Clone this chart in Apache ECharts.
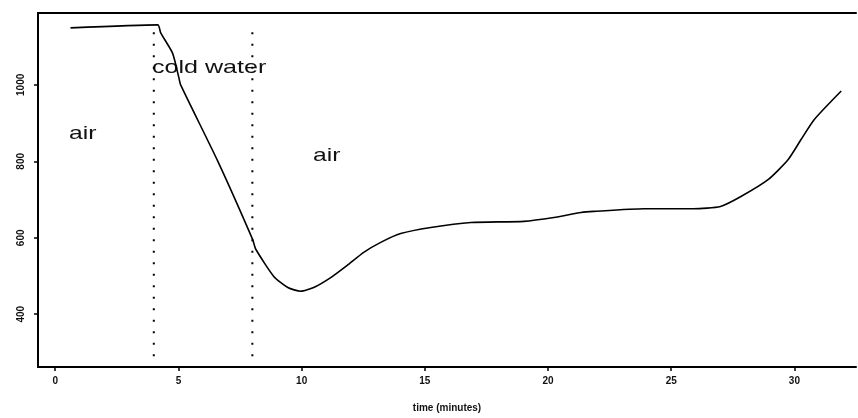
<!DOCTYPE html>
<html>
<head>
<meta charset="utf-8">
<script src="https://cdn.jsdelivr.net/npm/echarts@6/dist/echarts.min.js"></script>
<style>
  html, body { margin: 0; padding: 0; background: #fff; }
  #chart { width: 858px; height: 418px; }
</style>
</head>
<body>
<div id="chart"></div>
<script>
// readings taken off the trace
const timeMinutes = [0.62, 4.16, 4.28, 4.76, 5.01, 5.09, 6.6, 8.01, 8.14, 8.87, 9.44, 9.96, 10.49, 11.18, 11.85, 12.52, 13.21, 14.02, 15.24, 16.87, 19.02, 20.24, 21.34, 21.86, 23.9, 25.9, 27.0, 27.83, 28.93, 29.74, 30.27, 30.8, 31.9];
const readings = [1149, 1157, 1136, 1083, 1021, 1000, 800, 596, 570, 499, 470, 460, 470, 496, 528, 562, 588, 611, 627, 640, 643, 653, 666, 669, 676, 676, 682, 708, 752, 804, 857, 909, 984];

// dotted dividers between air / cold water / air
const dividerTimes = [4, 8];
const dividerRange = [290, 1160];

const xTicks = [0, 5, 10, 15, 20, 25, 30];
const yTicks = [400, 600, 800, 1000];

const chart = echarts.init(document.getElementById('chart'));

const lineData = timeMinutes.map((t, i) => [t, readings[i]]);

const dividerSeries = dividerTimes.map(t => ({
  type: 'line',
  data: [[t, dividerRange[0]], [t, dividerRange[1]]],
  symbol: 'none',
  silent: true,
  lineStyle: { color: '#000', width: 2, type: [2, 9.5] }
}));

const option = {
  animation: false,
  grid: { left: 38, right: 2, top: 13, bottom: 50 },
  xAxis: [{
    type: 'value',
    min: -0.7,
    max: 32.5,
    name: 'time (minutes)',
    nameLocation: 'middle',
    nameGap: 36,
    nameTextStyle: { fontSize: 10, color: '#111', fontFamily: 'Liberation Sans', fontWeight: 'bold' },
    splitLine: { show: false },
    axisLine: { onZero: false, lineStyle: { color: '#000', width: 2 } },
    axisTick: { customValues: xTicks, length: 4, lineStyle: { color: '#000', width: 1.5 } },
    axisLabel: { customValues: xTicks, fontSize: 10, color: '#111', fontWeight: 'bold', fontFamily: 'Liberation Sans', margin: 9 }
  }, {
    type: 'value',
    position: 'top',
    min: -0.7,
    max: 32.5,
    splitLine: { show: false },
    axisLine: { show: true, onZero: false, lineStyle: { color: '#000', width: 2 } },
    axisTick: { show: false },
    axisLabel: { show: false }
  }],
  yAxis: {
    type: 'value',
    min: 262,
    max: 1188,
    splitLine: { show: false },
    axisLine: { show: true, onZero: false, lineStyle: { color: '#000', width: 2 } },
    axisTick: { show: true, customValues: yTicks, length: 4, lineStyle: { color: '#000', width: 1.5 } },
    axisLabel: {
      customValues: yTicks, rotate: 90, fontSize: 10, color: '#111', fontWeight: 'bold',
      fontFamily: 'Liberation Sans', margin: 12, formatter: v => String(v)
    }
  },
  graphic: [
    { type: 'text', left: 69, top: 124, scaleX: 1.3, style: { text: 'air', font: '19px "Liberation Sans"', fill: '#111' } },
    { type: 'text', left: 152, top: 58, scaleX: 1.32, style: { text: 'cold water', font: '19px "Liberation Sans"', fill: '#111' } },
    { type: 'text', left: 313, top: 146, scaleX: 1.3, style: { text: 'air', font: '19px "Liberation Sans"', fill: '#111' } }
  ],
  series: [{
    type: 'line',
    data: lineData,
    symbol: 'none',
    smooth: 0.2,
    lineStyle: { color: '#000', width: 1.6 }
  }].concat(dividerSeries)
};

chart.setOption(option);
</script>
</body>
</html>
